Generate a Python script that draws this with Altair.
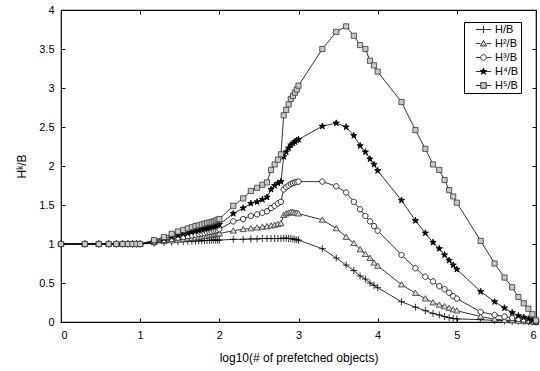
import altair as alt
import numpy as np
import pandas as pd

# number of prefetched objects (x is log10 of these)
prefetched = [
    1, 2, 3, 4, 5, 6, 7, 8, 9,
    10, 15, 20, 25, 30, 35, 40, 45, 50, 55, 60, 65, 70, 75, 80, 85, 90, 95,
    100, 150, 200, 250, 300, 350, 400, 450, 500, 550, 600, 650, 700, 750, 800, 850, 900, 950,
    1000, 2000, 3000, 4000, 5000, 6000, 7000, 8000, 9000,
    10000, 20000, 30000, 40000, 50000, 60000, 70000, 80000, 90000,
    100000, 200000, 300000, 400000, 500000, 600000, 700000, 800000, 900000,
    1000000,
]

h1 = [
    1.0, 1.0, 1.0, 1.0, 1.0, 1.0, 1.0, 1.0, 1.0,
    1.0, 1.01, 1.02, 1.025, 1.03, 1.03, 1.035, 1.035, 1.04, 1.04, 1.04, 1.045, 1.045, 1.045, 1.05, 1.05, 1.05, 1.05,
    1.05, 1.06, 1.06, 1.065, 1.065, 1.07, 1.07, 1.07, 1.07, 1.07, 1.07, 1.075, 1.075, 1.07, 1.07, 1.065, 1.06, 1.055,
    1.05, 0.94, 0.82, 0.73, 0.66, 0.59, 0.55, 0.50, 0.47,
    0.44, 0.26, 0.19, 0.145, 0.11, 0.09, 0.07, 0.055, 0.045,
    0.04, 0.03, 0.02, 0.015, 0.01, 0.01, 0.01, 0.005, 0.005,
    0.0,
]
h2 = [
    1.0, 1.0, 1.0, 1.0, 1.0, 1.0, 1.0, 1.0, 1.0,
    1.0, 1.02, 1.035, 1.045, 1.055, 1.06, 1.07, 1.075, 1.08, 1.09, 1.095, 1.10, 1.105, 1.11, 1.115, 1.12, 1.125, 1.13,
    1.135, 1.17, 1.19, 1.20, 1.21, 1.22, 1.225, 1.235, 1.245, 1.255, 1.265, 1.37, 1.39, 1.40, 1.41, 1.41, 1.40, 1.40,
    1.39, 1.31, 1.20, 1.09, 1.01, 0.93, 0.87, 0.82, 0.76,
    0.72, 0.48, 0.37, 0.30, 0.25, 0.22, 0.20, 0.18, 0.16,
    0.145, 0.07, 0.035, 0.025, 0.02, 0.015, 0.01, 0.01, 0.005,
    0.0,
]
h3 = [
    1.0, 1.0, 1.0, 1.0, 1.0, 1.0, 1.0, 1.0, 1.0,
    1.0, 1.03, 1.05, 1.065, 1.08, 1.09, 1.10, 1.11, 1.12, 1.13, 1.135, 1.14, 1.15, 1.155, 1.16, 1.17, 1.175, 1.18,
    1.19, 1.29, 1.32, 1.36, 1.38, 1.40, 1.42, 1.46, 1.49, 1.52, 1.54, 1.70, 1.73, 1.75, 1.77, 1.78, 1.79, 1.795,
    1.80, 1.80, 1.74, 1.66, 1.54, 1.445, 1.36, 1.29, 1.23,
    1.17, 0.86, 0.69, 0.58, 0.52, 0.46, 0.42, 0.375, 0.33,
    0.30, 0.13, 0.09, 0.07, 0.05, 0.04, 0.03, 0.02, 0.01,
    0.0,
]
h4 = [
    1.0, 1.0, 1.0, 1.0, 1.0, 1.0, 1.0, 1.0, 1.0,
    1.0, 1.04, 1.07, 1.09, 1.11, 1.13, 1.14, 1.155, 1.165, 1.175, 1.185, 1.195, 1.20, 1.21, 1.22, 1.225, 1.235, 1.24,
    1.25, 1.39, 1.46, 1.52, 1.54, 1.57, 1.60, 1.70, 1.75, 1.78, 1.80, 2.12, 2.18, 2.23, 2.27, 2.29, 2.31, 2.33,
    2.34, 2.51, 2.55, 2.50, 2.39, 2.26, 2.18, 2.09, 2.02,
    1.94, 1.56, 1.30, 1.14, 1.02, 0.94, 0.86, 0.79, 0.73,
    0.675, 0.39, 0.26, 0.18, 0.12, 0.08, 0.06, 0.04, 0.02,
    0.01,
]
h5 = [
    1.0, 1.0, 1.0, 1.0, 1.0, 1.0, 1.0, 1.0, 1.0,
    1.0, 1.05, 1.09, 1.13, 1.16, 1.18, 1.20, 1.215, 1.23, 1.24, 1.25, 1.26, 1.27, 1.275, 1.28, 1.29, 1.30, 1.31,
    1.32, 1.49, 1.585, 1.68, 1.72, 1.76, 1.79, 1.95, 2.02, 2.08, 2.15, 2.65, 2.72, 2.79, 2.86, 2.90, 2.94, 2.98,
    3.03, 3.50, 3.72, 3.79, 3.67, 3.55, 3.50, 3.35, 3.29,
    3.21, 2.82, 2.46, 2.22, 2.02, 1.95, 1.82, 1.69, 1.61,
    1.53, 1.04, 0.75, 0.57, 0.445, 0.32, 0.24, 0.17, 0.10,
    0.02,
]

series_names = ["H/B", "H²/B", "H³/B", "H⁴/B", "H⁵/B"]
x_ticks = [0, 1, 2, 3, 4, 5, 6]
y_ticks = [0, 0.5, 1, 1.5, 2, 2.5, 3, 3.5, 4]

rows = []
for name, vals in zip(series_names, [h1, h2, h3, h4, h5]):
    for n, v in zip(prefetched, vals):
        rows.append({"logn": float(np.log10(n)), "ratio": v, "series": name, "key": name})
df = pd.DataFrame(rows)

PLUS = "M-1,0L1,0M0,-1L0,1"
STAR = ("M0,-1L0.235,-0.324L0.951,-0.309L0.38,0.124L0.588,0.809L0,0.4"
        "L-0.588,0.809L-0.38,0.124L-0.951,-0.309L-0.235,-0.324Z")
TRI = "M0,-0.85L0.9,0.7L-0.9,0.7Z"
CIRC = "M0.8,0A0.8,0.8 0 1,1 -0.8,0A0.8,0.8 0 1,1 0.8,0Z"
SQ = "M-0.8,-0.8L0.8,-0.8L0.8,0.8L-0.8,0.8Z"

LINE_L = "M-2.2,0L-0.9,0M0.9,0L2.2,0"
L_PLUS = "M-2.2,0L2.2,0M0,-1L0,1"
L_TRI = LINE_L + TRI
L_CIRC = LINE_L + CIRC
L_STAR = "M-2.2,0L2.2,0" + STAR
L_SQ = LINE_L + SQ

FONT = "Liberation Sans"

x_scale = alt.Scale(domain=[0, 6], nice=False, zero=False)
y_scale = alt.Scale(domain=[0, 4], nice=False, zero=False)

tick_style = dict(tickSize=4, offset=-4, domain=False, grid=False,
                  tickColor="black", tickWidth=1)

lines = alt.Chart(df).mark_line(color="black", strokeWidth=0.8).encode(
    x=alt.X("logn:Q", scale=x_scale,
            axis=alt.Axis(orient="bottom", values=x_ticks, format="d",
                          title="log10(# of prefetched objects)",
                          labelPadding=7, titlePadding=12, **tick_style)),
    y=alt.Y("ratio:Q", scale=y_scale,
            axis=alt.Axis(orient="left", values=y_ticks, format="~g",
                          title="Hᵏ/B", labelPadding=7, titlePadding=10, **tick_style)),
    detail="series:N",
)

fill_range = ["transparent", "#d8d8d8", "white", "black", "#c8c8c8"]
stroke_range = ["black", "#333333", "black", "black", "#333333"]

points = alt.Chart(df).mark_point(strokeWidth=0.8, opacity=1, fillOpacity=1).encode(
    x=alt.X("logn:Q", scale=x_scale,
            axis=alt.Axis(orient="top", values=x_ticks, labels=False, title=None, **tick_style)),
    y=alt.Y("ratio:Q", scale=y_scale,
            axis=alt.Axis(orient="right", values=y_ticks, labels=False, title=None, **tick_style)),
    shape=alt.Shape("series:N", scale=alt.Scale(domain=series_names,
                    range=[PLUS, TRI, CIRC, STAR, SQ]), legend=None),
    fill=alt.Fill("series:N", scale=alt.Scale(domain=series_names, range=fill_range), legend=None),
    stroke=alt.Stroke("series:N", scale=alt.Scale(domain=series_names, range=stroke_range), legend=None),
    size=alt.Size("series:N", scale=alt.Scale(domain=series_names, range=[49, 42, 49, 49, 42]), legend=None),
)

leg_props = dict(title=None, orient="none", legendX=403, legendY=12,
                 strokeColor="black", fillColor="white", padding=2,
                 rowPadding=2, symbolSize=49, symbolOpacity=1,
                 symbolStrokeWidth=0.8,
                 symbolOffset=12, labelOffset=6,
                 labelFont=FONT, labelFontSize=11, labelColor="black")

legend_layer = alt.Chart(df).mark_point(opacity=0).encode(
    x=alt.X("logn:Q", scale=x_scale, axis=None),
    y=alt.Y("ratio:Q", scale=y_scale, axis=None),
    shape=alt.Shape("key:N", scale=alt.Scale(domain=series_names,
                    range=[L_PLUS, L_TRI, L_CIRC, L_STAR, L_SQ]),
                    legend=alt.Legend(**leg_props)),
    fill=alt.Fill("key:N", scale=alt.Scale(domain=series_names, range=fill_range),
                  legend=alt.Legend(**leg_props)),
    stroke=alt.Stroke("key:N", scale=alt.Scale(domain=series_names, range=["black"] * 5),
                      legend=alt.Legend(**leg_props)),
)

chart = alt.layer(lines, points, legend_layer).resolve_scale(
    shape="independent", fill="independent", size="independent", stroke="independent"
).resolve_axis(
    x="independent", y="independent"
).properties(
    width=475, height=312,
    autosize=alt.AutoSizeParams(type="none"),
    padding={"left": 61, "top": 10, "right": 4, "bottom": 49},
    background="white",
).configure_view(
    stroke="black", strokeWidth=1.2
).configure_axis(
    labelFont=FONT, titleFont=FONT, labelFontSize=11, titleFontSize=12,
    titleFontWeight="normal", labelColor="black", titleColor="black",
).configure_legend(
    labelFont=FONT, labelFontSize=11
)

chart.save("out.html", embed_options={"renderer": "svg", "actions": False})
